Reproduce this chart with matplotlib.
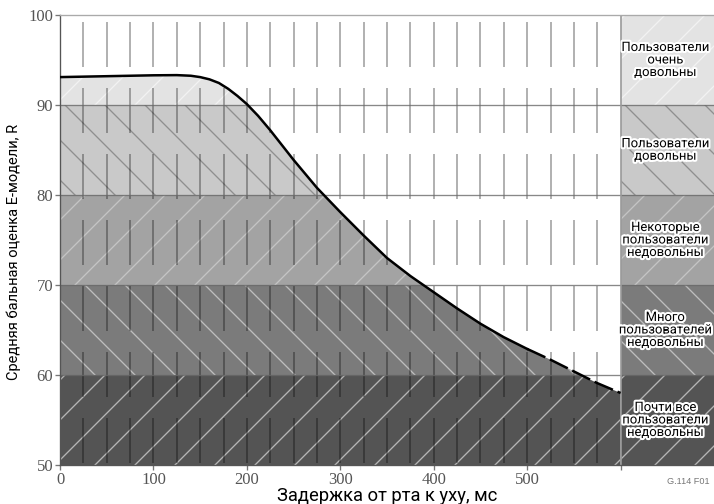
import matplotlib
matplotlib.use('Agg')
import matplotlib.pyplot as plt
import matplotlib.patheffects as pe
from matplotlib.patches import Polygon, Rectangle
import numpy as np

# mouth-to-ear delay (ms) vs E-model rating R
delay = [0, 50, 100, 125, 140, 150, 160, 170, 180, 190, 200, 212, 225,
         250, 275, 300, 325, 350, 375, 400, 425, 450, 475, 500]
rating = [93.1, 93.2, 93.3, 93.32, 93.25, 93.1, 92.85, 92.45, 91.8, 91.0,
          90.1, 88.8, 87.2, 83.9, 80.8, 78.1, 75.5, 73.0, 71.0, 69.2, 67.4,
          65.7, 64.2, 62.9]
# dashed continuation
delay_ext = [500, 525, 550, 575, 600]
rating_ext = [62.9, 61.7, 60.4, 59.1, 58.0]

band_lo = [90, 80, 70, 60, 50]
band_hi = [100, 90, 80, 70, 60]
band_colors = ['#e3e3e3', '#c9c9c9', '#a3a3a3', '#7b7b7b', '#545454']
band_hatches = ['/', '\\', '/', '\\', '/']
hatch_colors = ['#f2f2f2', '#8f8f8f', '#c4c4c4', '#bdbdbd', '#b5b5b5']
band_labels = ['Пользователи\nочень\nдовольны',
               'Пользователи\nдовольны',
               'Некоторые\nпользователи\nнедовольны',
               'Много\nпользователей\nнедовольны',
               'Почти все\nпользователи\nнедовольны']

x_ticks = [0, 100, 200, 300, 400, 500, 600]
x_tick_labels = ['0', '100', '200', '300', '400', '500', '']
y_ticks = [50, 60, 70, 80, 90, 100]

sans = ['Roboto', 'DejaVu Sans']
serif = ['Liberation Serif', 'DejaVu Serif']

plt.rcParams['hatch.linewidth'] = 0.8
plt.rcParams['lines.scale_dashes'] = False

fig = plt.figure(figsize=(5.95, 4.2), dpi=120)
ax = fig.add_axes([60 / 714, 1 - 465 / 504, 654 / 714, 450 / 504])
ax.set_xlim(0, 700)
ax.set_ylim(50, 100)

# region under the curve, used to clip the bands
curve_x = delay + delay_ext[1:]
curve_y = rating + rating_ext[1:]
verts = [(0, 50)] + list(zip(curve_x, curve_y)) + [(curve_x[-1], 50)]
under = Polygon(verts, closed=True, transform=ax.transData)

for lo, hi, fc, hc, h in zip(band_lo, band_hi, band_colors, hatch_colors, band_hatches):
    r = Rectangle((0, lo), 600, hi - lo, facecolor=fc, edgecolor=hc,
                  hatch=h, lw=0, zorder=1)
    ax.add_patch(r)
    r.set_clip_path(under)
    # side panel
    ax.add_patch(Rectangle((600, lo), 100, hi - lo, facecolor=fc,
                           edgecolor=hc, hatch=h, lw=0, zorder=1))

for lo, hi, lab in zip(band_lo, band_hi, band_labels):
    ax.text(648, (lo + hi) / 2, lab, ha='center', va='center',
            fontsize=7.8, family=sans, linespacing=0.95, zorder=5,
            path_effects=[pe.withStroke(linewidth=2.5, foreground='white')])

# broken vertical guide lines every 25 ms
ax.vlines(np.arange(25, 600, 25), 100, 50, colors='black', alpha=0.4,
          lw=0.9, linestyles=[(35.4, (27, 12.6))], zorder=2)
ax.hlines([60, 70, 80, 90], 0, 700, colors='#6a6a6a', alpha=0.8, lw=0.8, zorder=2)
ax.vlines(600, 50, 100, colors='#9a9a9a', lw=1.0, zorder=2)

ax.plot(delay, rating, color='black', lw=1.5, zorder=4,
        solid_joinstyle='round')
ax.plot(delay_ext, rating_ext, color='black', lw=1.5,
        linestyle=(0, (12, 3)), zorder=4)

ax.set_xticks(x_ticks)
ax.set_xticklabels(x_tick_labels, family=serif, fontsize=10, color='#555555')
ax.set_yticks(y_ticks)
ax.set_yticklabels([str(v) for v in y_ticks], family=serif, fontsize=10,
                   color='#555555')
ax.tick_params(direction='out', length=3, width=0.8, color='#777777', pad=1)

ax.spines['right'].set_visible(False)
ax.spines['top'].set_color('#aaaaaa')
ax.spines['left'].set_color('#555555')
ax.spines['bottom'].set_color('#555555')

fig.text(14 / 714, 1 - 252 / 504, 'Средняя бальная оценка E-модели, R',
         rotation=90, ha='center', va='center', fontsize=8.8, family=sans)
fig.text(387 / 714, 1 - 496 / 504, 'Задержка от рта к уху, мс',
         ha='center', va='center', fontsize=11, family=sans)
fig.text(688 / 714, 1 - 482 / 504, 'G.114 F01', ha='center', va='center',
         fontsize=5.5, color='#777777', family=['Liberation Sans', 'DejaVu Sans'])

fig.savefig('out.png', dpi=120)
